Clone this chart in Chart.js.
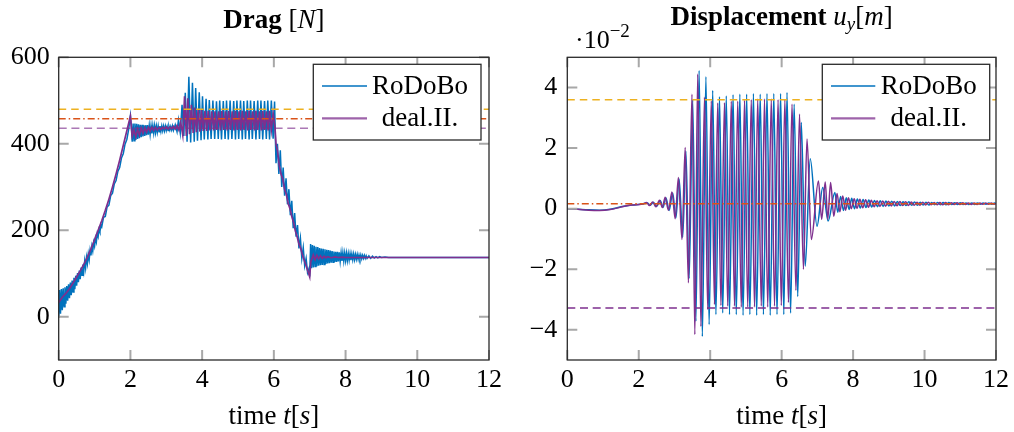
<!DOCTYPE html>
<html><head><meta charset="utf-8">
<script src="https://cdn.jsdelivr.net/npm/chart.js@4.4.1/dist/chart.umd.min.js"></script>
<style>
html,body{margin:0;padding:0;background:#fff;width:1014px;height:432px;overflow:hidden}
#c1{position:absolute;left:0;top:0}
#c2{position:absolute;left:507px;top:0}
</style></head><body>
<canvas id="c1" width="507" height="432"></canvas>
<canvas id="c2" width="507" height="432"></canvas>
<script>
// ---------------- DATA ----------------
const seriesLabels = ['RoDoBo', 'deal.II.'];
const xTicks = [0, 2, 4, 6, 8, 10, 12];
const dragYTicks = [0, 200, 400, 600];
const dispYTicks = [-4, -2, 0, 2, 4];
const dragRefValues = [480, 458, 436];
const dispRefValues = [3.6, 0.16, -3.28];

// Drag, RoDoBo (time s, force N)
const dragRoDoBoT = [
 0,0.025,0.05,0.075,0.1,0.125,0.15,0.175,0.2,0.225,0.25,0.275,0.3,0.325,0.35,0.375,0.4,0.425,0.45,0.475,0.5,0.525,0.55,0.575,0.6,0.625,0.65,0.675,0.7,0.725,0.75,0.775,0.8,0.825,0.85,0.875,0.9,0.925,0.95,0.975,1,1.025,1.05,1.075,1.1,1.125,1.15,1.175,1.2,
 1.25,1.3,1.35,1.4,1.45,1.5,1.55,1.6,1.65,1.7,1.75,1.8,1.85,1.9,1.95,
 2,2.025,2.05,2.075,2.1,2.125,2.15,2.175,2.2,2.225,2.25,2.275,2.3,2.325,2.35,2.375,2.4,2.425,2.45,2.475,2.5,2.525,2.55,2.575,2.6,2.625,2.65,2.675,2.7,2.725,2.75,2.775,2.8,2.825,2.85,2.875,2.9,2.925,2.95,2.975,3,3.025,3.05,3.075,3.1,3.125,3.15,3.175,3.2,
 3.25,3.3,3.34,3.39,3.44,3.49,3.53,3.58,3.63,3.68,3.73,3.78,3.82,3.87,3.92,3.97,4.01,4.06,4.11,4.16,4.2,4.25,4.3,4.35,4.4,4.45,4.49,4.54,4.59,4.64,4.68,4.73,4.78,4.83,4.88,4.93,4.97,5.02,5.07,5.12,5.16,5.21,5.26,5.31,5.35,5.4,5.45,5.5,5.55,5.6,5.64,5.69,5.74,5.79,5.83,5.88,5.93,5.98,6.02,
 6.04,6.06,6.1,6.14,6.18,6.22,6.26,6.3,6.34,6.38,6.42,6.46,6.5,6.54,6.58,6.62,6.66,6.7,6.74,6.78,6.82,6.86,6.9,6.94,6.98,7,
 7.025,7.05,7.075,7.1,7.125,7.15,7.175,7.2,7.225,7.25,7.275,7.3,7.325,7.35,7.375,7.4,7.425,7.45,7.475,7.5,7.525,7.55,7.575,7.6,7.625,7.65,7.675,7.7,7.725,7.75,7.775,7.8,7.825,7.85,7.875,7.9,7.925,7.95,7.975,8,8.025,8.05,8.075,8.1,8.125,8.15,8.175,8.2,8.225,8.25,8.275,8.3,8.325,8.35,8.375,8.4,8.425,8.45,8.475,8.5,8.525,8.55,8.575,8.6,
 8.65,8.7,8.75,8.8,8.85,8.9,8.95,9,9.1,9.2,12
];
const dragRoDoBo = [
 -2,62,7,64,15,66,23,68,30,71,37,75,43,79,50,84,57,90,64,95,72,101,80,107,87,114,96,121,105,129,113,137,123,145,132,154,142,163,152,172,163,182,173,192,185,202,196,213,208,
 230,232,254,258,280,286,307,315,336,345,367,377,399,410,433,
 465,440,405,447,407,447,409,446,411,445,413,444,415,444,417,443,418,443,420,443,421,442,422,442,424,442,425,442,426,441,427,441,428,441,429,441,430,441,430,441,431,440,431,440,432,440,432,441,431,
 444,428,455,425,490,418,518,405,555,403,541,405,529,407,519,408,510,410,504,410,501,411,500,411,498,411,500,410,499,411,500,410,500,411,499,410,500,411,500,410,499,411,500,410,500,411,499,410,500,411,500,410,499,411,500,410,500,412,498,
 420,355,400,330,385,300,345,280,320,260,295,235,268,205,240,185,212,158,182,135,160,118,135,102,112,93,
 168,112,166,114,164,116,162,117,161,118,159,119,158,120,157,121,156,122,155,123,154,124,153,125,152,126,151,127,150,127,150,128,149,128,148,129,148,129,147,130,147,130,146,131,146,131,145,132,145,132,144,133,144,133,143,134,143,134,142,135,142,135,141,135,
 141,135,140,136,139,136,139,137,138,137,137
];

// Drag, deal.II.
const dragDealT = [
 0,0.1,0.2,0.3,0.4,0.5,0.6,0.7,0.8,0.9,1,1.1,1.2,1.3,1.4,1.5,1.6,1.7,1.8,1.9,2,
 2.05,2.1,2.15,2.2,2.25,2.3,2.35,2.4,2.45,2.5,2.55,2.6,2.65,2.7,2.75,2.8,2.85,2.9,2.95,3,3.05,3.1,3.15,3.2,3.25,3.3,3.35,
 3.4,3.46,3.51,3.56,3.6,3.65,3.7,3.75,3.79,3.84,3.89,3.94,3.98,4.03,4.08,4.13,4.17,4.22,4.27,4.32,4.36,4.41,4.46,4.51,4.55,4.6,4.65,4.7,4.74,4.79,4.84,4.89,4.93,4.98,5.03,5.08,5.12,5.17,5.22,5.27,5.31,5.36,5.41,5.46,5.5,5.55,5.6,5.65,5.69,5.74,5.79,5.84,5.88,5.93,5.98,
 6.03,6.06,6.1,6.15,6.2,6.25,6.3,6.35,6.4,6.45,6.5,6.55,6.6,6.65,6.7,6.75,6.8,6.85,6.9,6.95,7,7.03,7.06,7.1,7.15,7.2,7.25,7.3,7.35,7.4,7.45,7.5,7.6,7.7,7.8,7.9,8,12
];
const dragDeal = [
 33,45,54,65,78,92,106,121,138,157,178,200,222,246,272,300,330,362,396,430,464,
 418,432,416,434,420,436,424,437,427,438,429,438,431,438,432,438,433,438,434,439,434,439,435,440,434,442,432,
 450,420,510,418,505,422,490,425,484,427,480,428,478,430,476,430,476,431,475,431,475,432,475,431,476,432,475,431,476,432,475,431,476,432,475,431,476,432,475,431,476,432,475,431,476,432,475,431,476,432,475,431,476,432,470,
 440,400,385,350,330,318,295,282,262,250,232,218,198,185,168,158,142,130,118,105,92,128,133,143,132,142,134,141,135,140,136,139,136.5,138.5,137,138,137,137
];

// Displacement u_y, RoDoBo (units of 1e-2 m)
const dispRoDoBoT = [
 0,0.3,0.6,0.9,1.2,1.5,1.8,2.1,2.24,2.32,2.41,2.5,2.6,2.68,2.76,2.85,2.95,3.04,3.13,3.23,3.32,3.41,3.51,3.6,3.69,3.78,3.88,3.97,4.07,4.16,4.26,4.35,4.45,4.54,4.64,4.73,4.83,4.92,5.02,5.11,5.21,5.3,5.4,5.49,5.59,5.68,5.78,5.87,5.97,6.06,6.15,6.25,6.35,6.45,6.55,6.66,6.8,6.99,7.15,7.3,7.49,7.57,7.65,7.73,7.81,7.89,7.96,
 8.04,8.12,8.2,8.28,8.36,8.44,8.52,8.6,8.68,8.76,8.84,8.92,9,9.08,9.16,9.24,9.32,9.4,9.48,9.56,9.64,9.72,9.8,9.88,9.96,10.04,10.12,10.2,10.28,10.36,10.44,10.52,10.6,10.68,10.76,10.84,10.92,11,11.08,11.16,11.24,11.32,11.4,11.48,11.56,11.64,11.72,11.8,11.88,11.96,12
];
const dispRoDoBo = [
 0,-0.02,-0.04,-0.05,-0.02,0.06,0.12,0.15,0.19,0.11,0.21,0.07,0.27,0.04,0.36,-0.06,0.52,-0.3,0.98,-0.95,1.9,-2.3,3.6,-3.72,4.56,-4.22,4.36,-3.83,3.9,-3.5,3.7,-3.45,3.72,-3.5,3.76,-3.5,3.78,-3.52,3.78,-3.5,3.8,-3.52,3.78,-3.5,3.8,-3.52,3.8,-3.5,3.8,-3.5,3.84,-3.45,3.45,-2.9,2.85,-1.9,1.65,-0.58,0.7,-0.41,0.53,-0.12,0.4,-0.06,0.36,-0.03,0.34,
 0,0.32,0.02,0.3,0.04,0.285,0.055,0.27,0.065,0.26,0.075,0.25,0.085,0.245,0.09,0.24,0.1,0.23,0.1,0.225,0.11,0.22,0.115,0.215,0.12,0.21,0.12,0.205,0.125,0.205,0.13,0.2,0.13,0.2,0.135,0.195,0.135,0.195,0.14,0.19,0.14,0.19,0.14,0.19,0.145,0.185,0.145,0.185,0.145,0.185,0.165
];

// Displacement u_y, deal.II. (units of 1e-2 m)
const dispDealT = [
 0,0.3,0.6,0.9,1.2,1.5,1.8,2.1,2.22,2.3,2.39,2.48,2.58,2.66,2.74,2.83,2.93,3.02,3.11,3.21,3.3,3.39,3.49,3.57,3.65,3.74,3.84,3.93,4.03,4.12,4.21,4.3,4.4,4.49,4.59,4.68,4.77,4.87,4.96,5.05,5.15,5.24,5.33,5.43,5.52,5.61,5.71,5.8,5.9,5.99,6.09,6.19,6.29,6.4,6.5,6.61,6.71,6.83,7.03,7.12,7.22,7.29,7.37,7.46,7.55,7.63,7.71,7.79,7.87,7.95,
 8.03,8.11,8.19,8.27,8.35,8.43,8.51,8.59,8.67,8.75,8.83,8.91,8.99,9.07,9.15,9.23,9.31,9.39,9.47,9.55,9.63,9.71,9.79,9.87,9.95,10.03,10.11,10.19,10.27,10.35,10.43,10.51,10.59,10.67,10.75,10.83,10.91,10.99,11.07,11.15,11.23,11.31,11.39,11.47,11.55,11.63,11.71,11.79,11.87,11.95,12
];
const dispDeal = [
 0,-0.02,-0.05,-0.06,-0.03,0.05,0.12,0.15,0.2,0.1,0.22,0.06,0.28,0.04,0.38,-0.05,0.55,-0.33,1.03,-1.02,2.02,-2.45,3.78,-4.16,4.45,-3.89,3.68,-3.33,3.56,-3.17,3.49,-3.2,3.5,-3.22,3.55,-3.22,3.55,-3.25,3.58,-3.25,3.6,-3.25,3.62,-3.22,3.62,-3.25,3.62,-3.22,3.6,-3.2,3.6,-3.1,3.45,-2.7,3.12,-2.0,2.3,-1.02,0.91,-0.35,0.88,-0.35,0.86,-0.25,0.5,-0.1,0.42,-0.05,0.36,0.0,
 0.325,0.01,0.31,0.03,0.29,0.05,0.275,0.06,0.265,0.07,0.255,0.08,0.245,0.09,0.24,0.095,0.235,0.1,0.225,0.105,0.22,0.11,0.215,0.115,0.21,0.12,0.21,0.125,0.205,0.125,0.2,0.13,0.2,0.13,0.195,0.135,0.195,0.135,0.195,0.14,0.19,0.14,0.19,0.14,0.19,0.145,0.185,0.145,0.185,0.145,0.165
];

// ---------------- STYLE / HELPERS ----------------
const SERIF = '"Liberation Serif", "Times New Roman", "DejaVu Serif", serif';
const BLUE = '#0072BD', PURPLE = '#7E2F8E', ORANGE = '#EDB120', RED = '#D95319';
const X_MIN = xTicks[0], X_MAX = xTicks[xTicks.length - 1];
const pts = (T, V) => T.map((t, i) => ({x: t, y: V[i]}));
const fmt = v => v < 0 ? '\u2212' + Math.abs(v) : String(v);

function refLine(v, color, dash, order) {
  return {data: [{x: X_MIN, y: v}, {x: X_MAX, y: v}], borderColor: color, borderWidth: 1.4,
          borderDash: dash, pointRadius: 0, order: order, tension: 0};
}

function drawRich(ctx, segs, x, y, align) {
  let w = 0;
  segs.forEach(s => { ctx.font = s.f; s.w = ctx.measureText(s.t).width; w += s.w; });
  let cx = align === 'center' ? x - w / 2 : x;
  ctx.fillStyle = '#000'; ctx.textAlign = 'left'; ctx.textBaseline = 'alphabetic';
  segs.forEach(s => { ctx.font = s.f; ctx.fillText(s.t, cx, y + (s.dy || 0)); cx += s.w; });
}

const frameTicks = {
  id: 'frameTicks',
  afterDatasetsDraw(chart) {
    const {ctx, chartArea: a, scales: {x, y}} = chart;
    ctx.save();
    ctx.setLineDash([]);
    ctx.strokeStyle = '#a8a8a8'; ctx.lineWidth = 2;
    const L = 10;
    ctx.beginPath();
    x.ticks.forEach(t => {
      const px = x.getPixelForValue(t.value);
      ctx.moveTo(px, a.bottom); ctx.lineTo(px, a.bottom - L);
      ctx.moveTo(px, a.top); ctx.lineTo(px, a.top + L);
    });
    y.ticks.forEach(t => {
      const py = y.getPixelForValue(t.value);
      ctx.moveTo(a.left, py); ctx.lineTo(a.left + L, py);
      ctx.moveTo(a.right, py); ctx.lineTo(a.right - L, py);
    });
    ctx.stroke();
    ctx.strokeStyle = '#2a2a2a'; ctx.lineWidth = 1.3;
    ctx.strokeRect(a.left, a.top, a.right - a.left, a.bottom - a.top);
    ctx.restore();
  }
};

const boxLegend = {
  id: 'boxLegend',
  afterDraw(chart, args, o) {
    const ctx = chart.ctx;
    ctx.save();
    ctx.setLineDash([]);
    ctx.fillStyle = '#fff';
    ctx.fillRect(o.x1, o.y1, o.x2 - o.x1, o.y2 - o.y1);
    ctx.strokeStyle = '#2a2a2a'; ctx.lineWidth = 1.3;
    ctx.strokeRect(o.x1, o.y1, o.x2 - o.x1, o.y2 - o.y1);
    o.items.forEach(it => {
      ctx.strokeStyle = it.color; ctx.lineWidth = 2.2; ctx.globalAlpha = 0.75;
      ctx.beginPath(); ctx.moveTo(o.lx1, it.y); ctx.lineTo(o.lx2, it.y); ctx.stroke();
      ctx.globalAlpha = 1;
      ctx.font = '27px ' + SERIF; ctx.fillStyle = '#000';
      ctx.textAlign = 'center'; ctx.textBaseline = 'alphabetic';
      ctx.fillText(it.label, o.tx, it.y + 7.5);
    });
    ctx.restore();
  }
};

const texts = {
  id: 'texts',
  afterDraw(chart, args, o) {
    const ctx = chart.ctx, a = chart.chartArea;
    ctx.save();
    const cx = (a.left + a.right) / 2;
    drawRich(ctx, o.title, cx, o.titleY, 'center');
    drawRich(ctx, o.xlabel, cx, o.xlabelY, 'center');
    if (o.extra) drawRich(ctx, o.extra, o.extraX, o.extraY, 'left');
    ctx.restore();
  }
};

const xLabelSegs = () => [
  {t: 'time ', f: '27px ' + SERIF}, {t: 't', f: 'italic 27px ' + SERIF},
  {t: '[', f: '27px ' + SERIF}, {t: 's', f: 'italic 27px ' + SERIF}, {t: ']', f: '27px ' + SERIF}
];

function makeOptions(cfg) {
  return {
    responsive: false, animation: false, devicePixelRatio: 1,
    layout: {padding: {left: 0, right: cfg.padRight, top: 57.3, bottom: 0}},
    elements: {point: {radius: 0}},
    scales: {
      x: {type: 'linear', min: X_MIN, max: X_MAX,
          afterBuildTicks: s => { s.ticks = xTicks.map(v => ({value: v})); },
          afterFit: s => { s.height = 72; },
          grid: {display: false, drawTicks: false}, border: {display: false},
          ticks: {color: '#000', font: {family: SERIF, size: 26}, padding: 5, maxRotation: 0, autoSkip: false}},
      y: {type: 'linear', min: cfg.yMin, max: cfg.yMax,
          afterBuildTicks: s => { s.ticks = cfg.yTicks.map(v => ({value: v})); },
          afterFit: s => { s.width = cfg.yWidth; },
          grid: {display: false, drawTicks: false}, border: {display: false},
          ticks: {color: '#000', font: {family: SERIF, size: 26}, padding: cfg.yPad, callback: fmt}}
    },
    plugins: {
      legend: {display: false}, tooltip: {enabled: false},
      boxLegend: cfg.legend, texts: cfg.texts
    }
  };
}

// ---------------- LEFT: DRAG ----------------
new Chart(document.getElementById('c1'), {
  type: 'line',
  data: {datasets: [
    refLine(dragRefValues[0], ORANGE, [7.5, 5], 1),
    refLine(dragRefValues[1], RED, [7, 3, 1.5, 3], 1),
    refLine(dragRefValues[2], 'rgba(126,47,142,0.65)', [8, 4.7], 1),
    {label: seriesLabels[1], data: pts(dragDealT, dragDeal), borderColor: PURPLE, borderWidth: 1.7, tension: 0, order: 2},
    {label: seriesLabels[0], data: pts(dragRoDoBoT, dragRoDoBo), borderColor: BLUE, borderWidth: 1.5, tension: 0, order: 3}
  ]},
  options: makeOptions({
    padRight: 17, yMin: -100, yMax: 600, yTicks: dragYTicks, yWidth: 58.7, yPad: 9,
    legend: {x1: 313.3, y1: 64.3, x2: 481, y2: 140, lx1: 322, lx2: 367, tx: 420,
             items: [{label: seriesLabels[0], color: BLUE, y: 86}, {label: seriesLabels[1], color: PURPLE, y: 118.3}]},
    texts: {
      title: [{t: 'Drag', f: 'bold 27px ' + SERIF}, {t: ' [', f: '27px ' + SERIF},
              {t: 'N', f: 'italic 27px ' + SERIF}, {t: ']', f: '27px ' + SERIF}],
      titleY: 27.5, xlabel: xLabelSegs(), xlabelY: 424
    }
  }),
  plugins: [frameTicks, boxLegend, texts]
});

// ---------------- RIGHT: DISPLACEMENT ----------------
new Chart(document.getElementById('c2'), {
  type: 'line',
  data: {datasets: [
    refLine(dispRefValues[0], ORANGE, [7.5, 5], 1),
    refLine(dispRefValues[1], RED, [7, 3, 1.5, 3], 1),
    refLine(dispRefValues[2], PURPLE, [8, 4.7], 1),
    {label: seriesLabels[1], data: pts(dispDealT, dispDeal), borderColor: PURPLE, borderWidth: 1.5, cubicInterpolationMode: 'monotone', order: 2},
    {label: seriesLabels[0], data: pts(dispRoDoBoT, dispRoDoBo), borderColor: BLUE, borderWidth: 1.5, cubicInterpolationMode: 'monotone', order: 3}
  ]},
  options: makeOptions({
    padRight: 15, yMin: -5, yMax: 5, yTicks: dispYTicks, yWidth: 60.3, yPad: 10,
    legend: {x1: 315.3, y1: 64.3, x2: 482.7, y2: 140, lx1: 324, lx2: 368.3, tx: 421.7,
             items: [{label: seriesLabels[0], color: BLUE, y: 86}, {label: seriesLabels[1], color: PURPLE, y: 118.3}]},
    texts: {
      title: [{t: 'Displacement ', f: 'bold 27px ' + SERIF}, {t: 'u', f: 'italic 27px ' + SERIF},
              {t: 'y', f: 'italic 19px ' + SERIF, dy: 5}, {t: '[', f: '27px ' + SERIF},
              {t: 'm', f: 'italic 27px ' + SERIF}, {t: ']', f: '27px ' + SERIF}],
      titleY: 25, xlabel: xLabelSegs(), xlabelY: 424,
      extra: [{t: '\u00B710', f: '26px ' + SERIF}, {t: '\u22122', f: '19px ' + SERIF, dy: -11}],
      extraX: 68, extraY: 48
    }
  }),
  plugins: [frameTicks, boxLegend, texts]
});
</script>
</body></html>
